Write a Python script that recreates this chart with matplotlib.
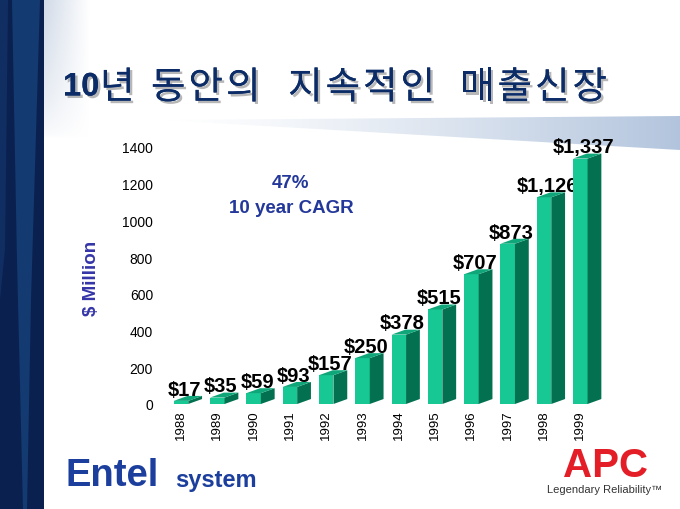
import numpy as np
import matplotlib
matplotlib.use("Agg")
import matplotlib.pyplot as plt
from matplotlib.patches import Polygon, Rectangle
import matplotlib.patheffects as pe

years = ["1988", "1989", "1990", "1991", "1992", "1993", "1994", "1995", "1996", "1997", "1998", "1999"]
sales = [17, 35, 59, 93, 157, 250, 378, 515, 707, 873, 1126, 1337]
value_labels = ["$17", "$35", "$59", "$93", "$157", "$250", "$378", "$515", "$707", "$873", "$1,126", "$1,337"]
yticks = [0, 200, 400, 600, 800, 1000, 1200, 1400]
title_num = "10"
title_words = ["년", "동안의", "지속적인", "매출신장"]
cagr_lines = ["47%", "10 year CAGR"]
ylabel = "$ Million"

FRONT = "#18c894"
SIDE = "#03714f"
TOP = "#0fa67a"
NAVY = "#0c2c68"
NARROW = ["Liberation Sans Narrow", "Liberation Sans", "DejaVu Sans"]
SANS = ["Liberation Sans", "DejaVu Sans"]

W, H = 680, 510
fig = plt.figure(figsize=(6.8, 5.1), dpi=100)
fig.patch.set_facecolor("white")

# ---------- background decoration ----------
bg = fig.add_axes([0, 0, 1, 1], zorder=-5)
bg.set_xlim(0, W)
bg.set_ylim(H, 0)
bg.axis("off")

g = np.linspace(1, 0, 64)[None, :] * np.linspace(1, 0, 64)[:, None] ** 0.6
grad = np.ones((64, 64, 4))
grad[..., 0] = 0.80
grad[..., 1] = 0.84
grad[..., 2] = 0.90
grad[..., 3] = g * 0.9
bg.imshow(grad, extent=(44, 90, 140, 0), aspect="auto", zorder=0, interpolation="bilinear")

wg = np.linspace(0, 1, 256)[None, :] ** 1.3
wimg = np.ones((2, 256, 4))
wimg[..., 0] = 0.70
wimg[..., 1] = 0.77
wimg[..., 2] = 0.87
wimg[..., 3] = wg
im = bg.imshow(wimg, extent=(160, 680, 151, 117), aspect="auto", zorder=1, interpolation="bilinear")
wedge = Polygon([(160, 121), (680, 117), (680, 151)], closed=True, transform=bg.transData,
                facecolor="none", edgecolor="none")
bg.add_patch(wedge)
im.set_clip_path(wedge)

bg.add_patch(Rectangle((0, 0), 44, H, facecolor="#0a2150", edgecolor="none", zorder=2))
bg.add_patch(Polygon([(12, 0), (40, 0), (31, 300), (27, H), (23, H), (17, 260)], closed=True,
                     facecolor="#1f5394", edgecolor="none", alpha=0.5, zorder=3))
bg.add_patch(Polygon([(0, 0), (8, 0), (5, 250), (0, 300)], closed=True,
                     facecolor="#15386e", edgecolor="none", alpha=0.6, zorder=3))

# ---------- title ----------
shadow = [pe.withSimplePatchShadow(offset=(1.8, -1.8), shadow_rgbFace="#888888", alpha=0.6), pe.Normal()]
ty = 1 - 89 / H
fig.text(63 / W, 1 - 88 / H, title_num, fontsize=23.5, fontweight="bold", family=NARROW,
         color=NAVY, va="center", ha="left", path_effects=shadow)
word_starts = [100, 151, 288, 460]   # pixel x where each word starts
pitch = 37.5
for ws, word in zip(word_starts, title_words):
    for k, ch in enumerate(word):
        fig.text((ws + k * pitch) / W, ty, ch, fontsize=27, family=["Noto Sans CJK KR"],
                 color=NAVY, va="center", ha="left", path_effects=shadow)

# ---------- chart ----------
x0_px, step_px = 181, 36.3
ax_l, ax_r = 160, 620
ax = fig.add_axes([ax_l / W, 1 - 405 / H, (ax_r - ax_l) / W, (405 - 148) / H])
ax.patch.set_alpha(0)
xs = np.arange(len(years))
ax.set_xlim((ax_l - x0_px) / step_px, (ax_r - x0_px) / step_px)
ax.set_ylim(0, 1400)
for s in ax.spines.values():
    s.set_visible(False)

w, dx, dy = 0.40, 0.38, 27
ax.bar(xs, sales, width=w, color=FRONT, zorder=3, linewidth=0)
for xi, v in zip(xs, sales):
    rr = xi + w / 2
    ax.add_patch(Polygon([(rr, 0), (rr + dx, dy), (rr + dx, v + dy), (rr, v)], closed=True,
                         facecolor=SIDE, edgecolor="none", zorder=3))
    ax.add_patch(Polygon([(xi - w / 2, v), (rr, v), (rr + dx, v + dy), (xi - w / 2 + dx, v + dy)],
                         closed=True, facecolor=TOP, edgecolor="none", zorder=3))

for xi, v, lab in zip(xs, sales, value_labels):
    ax.text(xi + 0.1, v + 12, lab, ha="center", va="bottom", fontsize=14.5, fontweight="bold",
            family=SANS, color="black", zorder=1)

ax.set_yticks(yticks)
ax.set_yticklabels([str(t) for t in yticks], family=SANS, fontsize=10)
ax.set_xticks(xs)
ax.set_xticklabels(years, rotation=90, family=SANS, fontsize=9.5)
ax.tick_params(axis="both", length=0)
ax.tick_params(axis="y", pad=5)
ax.tick_params(axis="x", pad=4)

BLUE = "#23389a"
fig.text(291 / W, 1 - 183 / H, cagr_lines[0], ha="center", va="center", fontsize=13.5,
         fontweight="bold", family=NARROW, color=BLUE)
fig.text(291 / W, 1 - 209 / H, cagr_lines[1], ha="center", va="center", fontsize=13.5,
         fontweight="bold", family=NARROW, color=BLUE)
fig.text(92 / W, 1 - 278 / H, ylabel, ha="center", va="center", rotation=90, fontsize=13.5,
         fontweight="bold", family=NARROW, color="#3535a8")

# ---------- logos ----------
fig.text(66 / W, 1 - 476 / H, "Entel", ha="left", va="center", fontsize=27.5, fontweight="bold",
         family=SANS, color="#1c3f9e")
fig.text(175 / W, 1 - 481 / H, "system", ha="left", va="center", fontsize=17, fontweight="bold",
         family=SANS, color="#1c3f9e")
fig.text(605 / W, 1 - 477 / H, "APC", ha="center", va="baseline", fontsize=29, fontweight="bold",
         family=SANS, color="#e41e26")
fig.text(605 / W, 1 - 490 / H, "Legendary Reliability\u2122", ha="center", va="center", fontsize=8,
         family=NARROW, color="#333333")

fig.savefig("out.png", dpi=100, facecolor="white")
